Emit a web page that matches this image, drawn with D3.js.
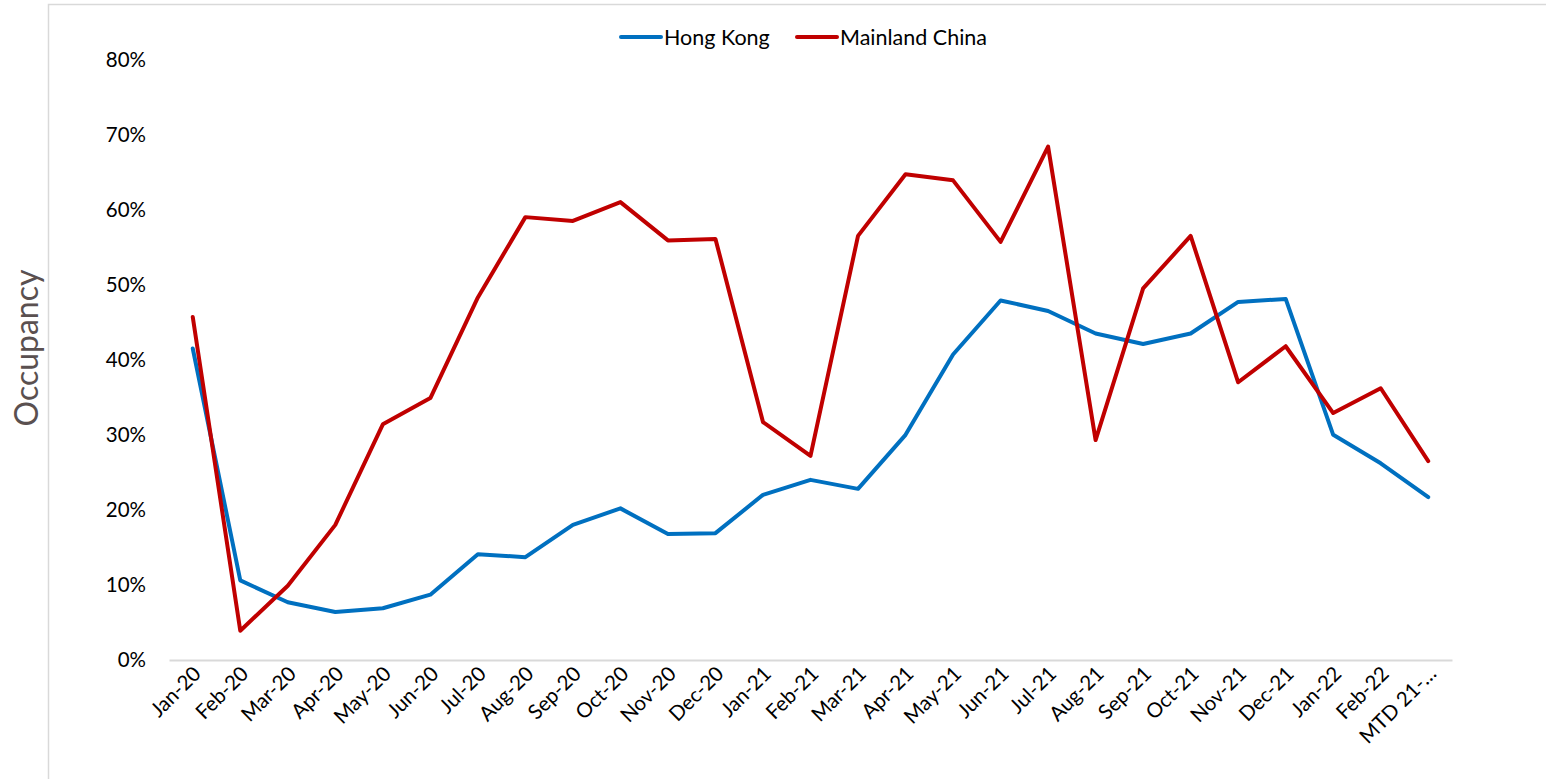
<!DOCTYPE html>
<html><head><meta charset="utf-8">
<script src="https://cdn.jsdelivr.net/npm/d3@7"></script>
<style>body{margin:0;background:#fff;} svg{display:block;}</style>
</head><body>
<script>
const categories = ["Jan-20","Feb-20","Mar-20","Apr-20","May-20","Jun-20","Jul-20","Aug-20","Sep-20","Oct-20","Nov-20","Dec-20","Jan-21","Feb-21","Mar-21","Apr-21","May-21","Jun-21","Jul-21","Aug-21","Sep-21","Oct-21","Nov-21","Dec-21","Jan-22","Feb-22","MTD 21-…"];
const hongKong = [41.5,10.6,7.7,6.4,6.9,8.7,14.1,13.7,18.0,20.2,16.8,16.9,22.0,24.0,22.8,30.0,40.7,47.9,46.5,43.5,42.1,43.5,47.7,48.1,30.0,26.2,21.7];
const mainlandChina = [45.7,3.9,9.9,18.0,31.4,34.9,48.3,59.0,58.5,61.0,55.9,56.1,31.7,27.2,56.5,64.7,63.9,55.7,68.4,29.3,49.5,56.5,37.0,41.8,32.9,36.2,26.5];
const yTicks = [0,10,20,30,40,50,60,70,80];
const seriesNames = ["Hong Kong","Mainland China"];
const colors = ["#0070C0","#C00000"];

const W = 1546, H = 779;
const font = "Lato, 'Noto Sans', sans-serif";
const svg = d3.select("body").append("svg").attr("width", W).attr("height", H);

svg.append("rect").attr("x",48.5).attr("y",4.5).attr("width",W).attr("height",H)
  .attr("fill","none").attr("stroke","#d9d9d9").attr("stroke-width",1.5);

const x = d3.scalePoint().domain(categories).range([169,1452]).padding(0.5);
const y = d3.scaleLinear().domain([0,80]).range([660,59.5]);

// y axis labels
const yAxis = d3.axisLeft(y).tickValues(yTicks).tickFormat(d => d + "%").tickSize(0).tickPadding(0);
const ya = svg.append("g").attr("transform","translate(146,0)").call(yAxis);
ya.select(".domain").remove();
ya.selectAll("text").attr("font-family",font).attr("font-size",20.5).attr("fill","#000");

// x axis
const xAxis = d3.axisBottom(x).tickSize(0).tickPadding(0);
const xa = svg.append("g").attr("transform","translate(0,660)").call(xAxis);
xa.select(".domain").attr("stroke","#d9d9d9").attr("stroke-width",2);
xa.selectAll("text").attr("font-family",font).attr("font-size",20.5).attr("fill","#000")
  .attr("text-anchor","end").attr("dy",0).attr("y",0)
  .attr("transform","translate(9,15) rotate(-45)");

// lines
const line = d3.line().x((d,i)=>x(categories[i])).y(d=>y(d));
[hongKong, mainlandChina].forEach((s,k)=>{
  svg.append("path").datum(s).attr("d",line).attr("fill","none")
    .attr("stroke",colors[k]).attr("stroke-width",4)
    .attr("stroke-linejoin","round").attr("stroke-linecap","round");
});

// legend
const legendX = [621, 797];
seriesNames.forEach((n,k)=>{
  const g = svg.append("g");
  g.append("line").attr("x1",legendX[k]).attr("x2",legendX[k]+40).attr("y1",37).attr("y2",37)
    .attr("stroke",colors[k]).attr("stroke-width",4).attr("stroke-linecap","round");
  g.append("text").attr("x",legendX[k]+43).attr("y",37).attr("dy","0.35em")
    .attr("font-family",font).attr("font-size",21.5).attr("fill","#000").text(n);
});

// y title
svg.append("text").attr("transform","translate(38,348) rotate(-90)")
  .attr("text-anchor","middle").attr("font-family",font).attr("font-size",32)
  .attr("fill","#5a5050").text("Occupancy");
</script>
</body></html>
